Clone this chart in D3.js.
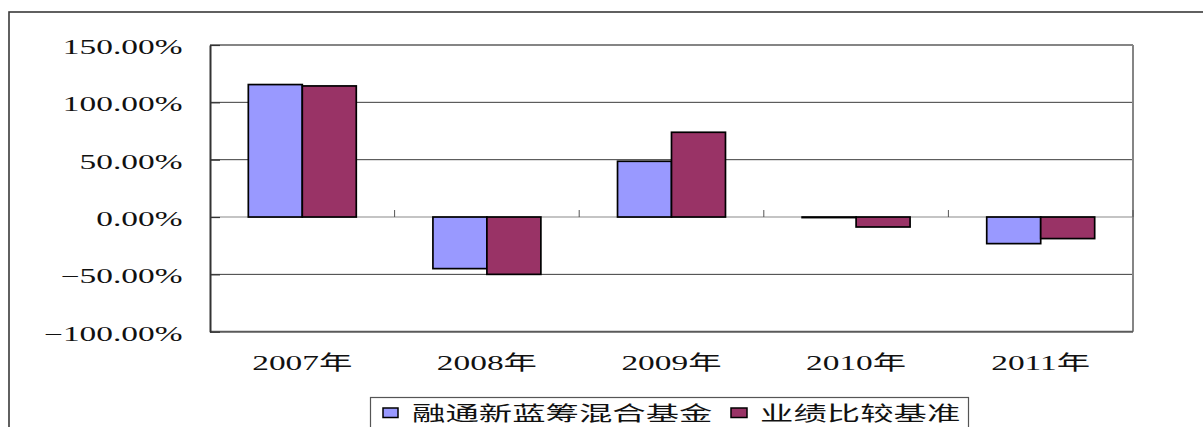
<!DOCTYPE html>
<html>
<head>
<meta charset="utf-8">
<script src="https://cdn.jsdelivr.net/npm/d3@7/dist/d3.min.js"></script>
<style>
  html, body { margin: 0; padding: 0; background: #fff; }
  svg { display: block; }
  text { font-family: "Liberation Serif", "Noto Sans CJK SC", serif; fill: #111; }
</style>
</head>
<body>
<svg id="chart" width="1203" height="427"></svg>
<script>
// Annual returns, fund vs. benchmark (percent)
const categories = ["2007年", "2008年", "2009年", "2010年", "2011年"];
const seriesNames = ["融通新蓝筹混合基金", "业绩比较基准"];
const fundValues = [115.5, -45.0, 48.6, -0.5, -23.2];
const benchmarkValues = [114.3, -50.0, 73.9, -8.7, -18.8];
const yTicks = [-100, -50, 0, 50, 100, 150];
const colors = ["#9999FF", "#993366"];

const rows = categories.map((c, i) => ({ cat: c, values: [fundValues[i], benchmarkValues[i]] }));

const svg = d3.select("#chart");
const SX = 1.67; // horizontal text stretch

const plot = { left: 210, right: 1133, top: 45, bottom: 331.7 };

// outer frame
svg.append("rect")
  .attr("x", 9).attr("y", 12).attr("width", 1400).attr("height", 600)
  .attr("fill", "none").attr("stroke", "#3a3a3a").attr("stroke-width", 1.6);

const x = d3.scaleBand().domain(categories).range([plot.left, plot.right]).paddingInner(0).paddingOuter(0);
const x1 = d3.scaleBand().domain([0, 1]).range([0, x.bandwidth()]).paddingInner(0).paddingOuter(0.71);
const y = d3.scaleLinear().domain([-100, 150]).range([plot.bottom, plot.top]);

// horizontal gridlines
svg.append("g").selectAll("line")
  .data(yTicks.filter(t => t !== 0 && t !== 150 && t !== -100))
  .join("line")
  .attr("x1", plot.left).attr("x2", plot.right)
  .attr("y1", d => y(d)).attr("y2", d => y(d))
  .attr("stroke", "#3c3c3c").attr("stroke-width", 1);

// plot frame: top, right, bottom in gray
const frame = svg.append("g").attr("fill", "none").attr("stroke", "#858585").attr("stroke-width", 2);
frame.append("line").attr("x1", plot.left).attr("x2", plot.right).attr("y1", y(150)).attr("y2", y(150));
frame.append("line").attr("x1", plot.right).attr("x2", plot.right).attr("y1", y(150)).attr("y2", y(-100));
frame.append("line").attr("x1", plot.left).attr("x2", plot.right).attr("y1", y(-100)).attr("y2", y(-100)).attr("stroke", "#5a5a5a");

// zero baseline with category separator ticks
svg.append("line")
  .attr("x1", plot.left).attr("x2", plot.right)
  .attr("y1", y(0)).attr("y2", y(0))
  .attr("stroke", "#8a8a8a").attr("stroke-width", 1.2);
svg.append("g").selectAll("line")
  .data(categories.slice(1).map(c => x(c)).concat([plot.right]))
  .join("line")
  .attr("x1", d => d).attr("x2", d => d)
  .attr("y1", y(0)).attr("y2", y(0) - 7)
  .attr("stroke", "#555").attr("stroke-width", 1);

// bars
const groups = svg.append("g").selectAll("g")
  .data(rows).join("g")
  .attr("transform", d => `translate(${x(d.cat)},0)`);
groups.selectAll("rect")
  .data(d => d.values.map((v, i) => ({ v, i })))
  .join("rect")
  .attr("x", d => x1(d.i))
  .attr("width", x1.bandwidth())
  .attr("y", d => y(Math.max(0, d.v)))
  .attr("height", d => Math.abs(y(d.v) - y(0)))
  .attr("fill", d => colors[d.i])
  .attr("stroke", "#000").attr("stroke-width", 1.7);

// y axis
const yAxis = svg.append("g")
  .attr("transform", `translate(${plot.left},0)`)
  .call(d3.axisLeft(y).tickValues(yTicks).tickSize(-10).tickSizeOuter(0)
    .tickFormat(d => d3.format(".2f")(d) + "%"));
yAxis.select(".domain").attr("stroke", "#333").attr("stroke-width", 2);
yAxis.selectAll(".tick line").attr("stroke", "#333").attr("stroke-width", 1.2);
yAxis.selectAll(".tick text")
  .attr("x", null).attr("dy", null)
  .attr("transform", `translate(-27.5,8.5) scale(${SX},1)`)
  .attr("text-anchor", "end")
  .style("font-size", "20px")
  .style("font-family", "'Liberation Serif','Noto Sans CJK SC',serif")
  .attr("fill", "#111");

// category labels
const xAxis = svg.append("g")
  .attr("transform", `translate(0,${plot.bottom})`)
  .call(d3.axisBottom(x).tickSize(0));
xAxis.select(".domain").remove();
xAxis.selectAll(".tick text")
  .attr("y", null).attr("dy", null)
  .attr("transform", `translate(0,38.5) scale(${SX},1)`)
  .attr("text-anchor", "middle")
  .style("font-size", "20px")
  .style("font-family", "'Liberation Serif','Noto Sans CJK SC',serif")
  .attr("fill", "#111");

// legend
const legend = svg.append("g");
legend.append("rect")
  .attr("x", 370.5).attr("y", 397.5).attr("width", 598).attr("height", 60)
  .attr("fill", "#fff").attr("stroke", "#555").attr("stroke-width", 1.2);
const legendItems = [
  { name: seriesNames[0], color: colors[0], sx: 383, tx: 412, sw: 15 },
  { name: seriesNames[1], color: colors[1], sx: 731, tx: 760, sw: 16 }
];
legendItems.forEach(it => {
  legend.append("rect")
    .attr("x", it.sx).attr("y", 408).attr("width", it.sw).attr("height", 9.5)
    .attr("fill", it.color).attr("stroke", "#000").attr("stroke-width", 1.5);
  legend.append("text")
    .attr("transform", `translate(${it.tx},421) scale(${SX},1)`)
    .style("font-size", "20px")
    .style("font-family", "'Noto Sans CJK SC',sans-serif")
    .attr("fill", "#111")
    .text(it.name);
});
</script>
</body>
</html>
